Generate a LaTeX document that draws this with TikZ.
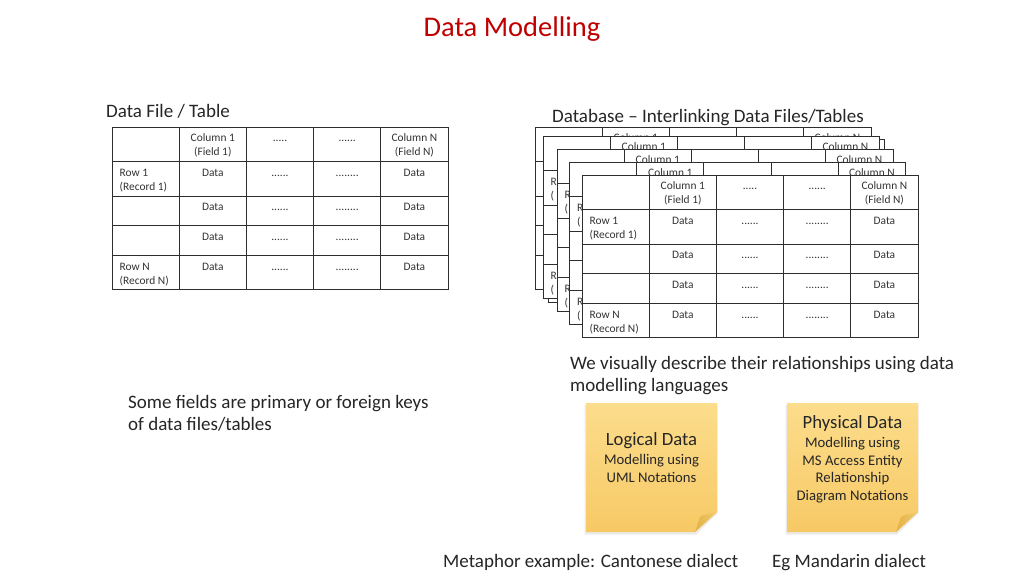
\documentclass[tikz,border=0pt]{standalone}
\usepackage{fontspec}
\setmainfont{Carlito}
\definecolor{titlered}{HTML}{C00000}
\definecolor{txt}{HTML}{262626}
\definecolor{celltxt}{HTML}{333333}
\definecolor{noteTop}{HTML}{FCDD8C}
\definecolor{noteBot}{HTML}{F7C965}
\definecolor{foldA}{HTML}{E3B247}
\definecolor{foldB}{HTML}{F2CC6E}
\tikzset{
  tline/.style={line width=1pt, draw=black!82},
  cell/.style={anchor=base, inner sep=0pt, font=\fontsize{11.4}{14}\selectfont, text=celltxt},
  lcell/.style={cell, anchor=base west},
  big/.style={anchor=base west, inner sep=0pt, font=\fontsize{19}{23}\selectfont, text=txt},
  notehead/.style={anchor=base, inner sep=0pt, font=\fontsize{18.7}{22}\selectfont, text=txt},
  notetxt/.style={anchor=base, inner sep=0pt, font=\fontsize{14.7}{18}\selectfont, text=txt},
}
% grid of one table
\newcommand\tablegrid{%
    \fill[white] (0,0) rectangle (336,162.5);
    \foreach \cx in {67.2,134.4,201.6,268.8} \draw[tline] (\cx,0) -- (\cx,162.5);
    \foreach \ry in {34.5,69,98.5,128.5} \draw[tline] (0,\ry) -- (336,\ry);
    \draw[tline] (0,0) rectangle (336,162.5);}
% full table
\newcommand\dbtable[3]{%
  \begin{scope}[shift={(#2,#3)}]
    \tablegrid
    \node[cell] (#1-h1) at (100.8,14) {\begin{tabular}[t]{@{}c@{}}Column 1\\(Field 1)\end{tabular}};
    \node[cell] (#1-h2) at (168,14) {.....};
    \node[cell] (#1-h3) at (235.2,14) {......};
    \node[cell] (#1-h4) at (302.4,14) {\begin{tabular}[t]{@{}c@{}}Column N\\(Field N)\end{tabular}};
    \foreach \r/\by in {1/49,2/83.5,3/113,4/143}{
      \node[cell] (#1-d\r-1) at (100.8,\by) {Data};
      \node[cell] (#1-d\r-2) at (168,\by) {......};
      \node[cell] (#1-d\r-3) at (235.2,\by) {........};
      \node[cell] (#1-d\r-4) at (302.4,\by) {Data};
    }
    \node[lcell] (#1-r1) at (7.5,49) {\begin{tabular}[t]{@{}l@{}}Row 1\\(Record 1)\end{tabular}};
    \node[lcell] (#1-rn) at (7.5,143) {\begin{tabular}[t]{@{}l@{}}Row N\\(Record N)\end{tabular}};
  \end{scope}}
% table in the stack behind: only the texts that peek out
\newcommand\backtable[3]{%
  \begin{scope}[shift={(#2,#3)}]
    \tablegrid
    \node[cell] (#1-h1) at (100.8,14) {Column 1};
    \node[cell] (#1-h4) at (302.4,14) {Column N};
    \node[lcell] (#1-r1) at (7.5,49) {\begin{tabular}[t]{@{}l@{}}R\\(\end{tabular}};
    \node[lcell] (#1-rn) at (7.5,143) {\begin{tabular}[t]{@{}l@{}}R\\(\end{tabular}};
  \end{scope}}
\newcommand\stickynote[2]{%
  \begin{scope}[shift={(#1,#2)}]
    \fill[black, opacity=0.08] (-1.5,1.5) -- (131.5,1.5) -- (131.5,110) -- (110,131.5) -- (-1.5,131.5) -- cycle;
    \shade[top color=noteTop, bottom color=noteBot] (0,0) -- (131,0) -- (131,109) -- (109,129) -- (0,129) -- cycle;
    \shade[left color=foldA, right color=foldB] (109,129) -- (131,109) .. controls (122,111) and (116,112) .. (114,114) .. controls (112,119) and (111,124) .. (109,129) -- cycle;
  \end{scope}}
\begin{document}
\begin{tikzpicture}[x=1pt,y=-1pt]
\useasboundingbox (0,0) rectangle (1024,576);
\fill[white] (0,0) rectangle (1024,576);

\node[anchor=base, inner sep=0pt, font=\fontsize{28.5}{32}\selectfont, text=titlered] (title) at (512,36) {Data Modelling};

\node[big] (lefthead) at (106,117) {Data File / Table};
\dbtable{L}{112}{127}

\node[big] (righthead) at (552,122) {Database -- Interlinking Data Files/Tables};
\backtable{B1}{535}{127}
\begin{scope}[shift={(548,139.5)}]\tablegrid\end{scope}
\backtable{B2}{543}{136}
\backtable{B3}{557}{149}
\backtable{B4}{569.5}{162}
\dbtable{F}{582}{175}

\node[big] (we1) at (570,369) {We visually describe their relationships using data};
\node[big] (we2) at (570,391) {modelling languages};

\node[big] (some1) at (128,408) {Some fields are primary or foreign keys};
\node[big] (some2) at (128,430.5) {of data files/tables};

\stickynote{586}{403}
\stickynote{787}{403}

\node[notehead] (log1) at (651.5,445) {Logical Data};
\node[notetxt] (log2) at (651.5,464) {Modelling using};
\node[notetxt] (log3) at (651.5,482) {UML Notations};

\node[notehead] (phy1) at (852.5,428) {Physical Data};
\node[notetxt] (phy2) at (852.5,447) {Modelling using};
\node[notetxt] (phy3) at (852.5,465) {MS Access Entity};
\node[notetxt] (phy4) at (852.5,482.5) {Relationship};
\node[notetxt] (phy5) at (852.5,500.5) {Diagram Notations};

\node[big] (meta) at (443,567) {Metaphor example: Cantonese dialect};
\node[big] (mand) at (772,567) {Eg Mandarin dialect};
\end{tikzpicture}
\end{document}
